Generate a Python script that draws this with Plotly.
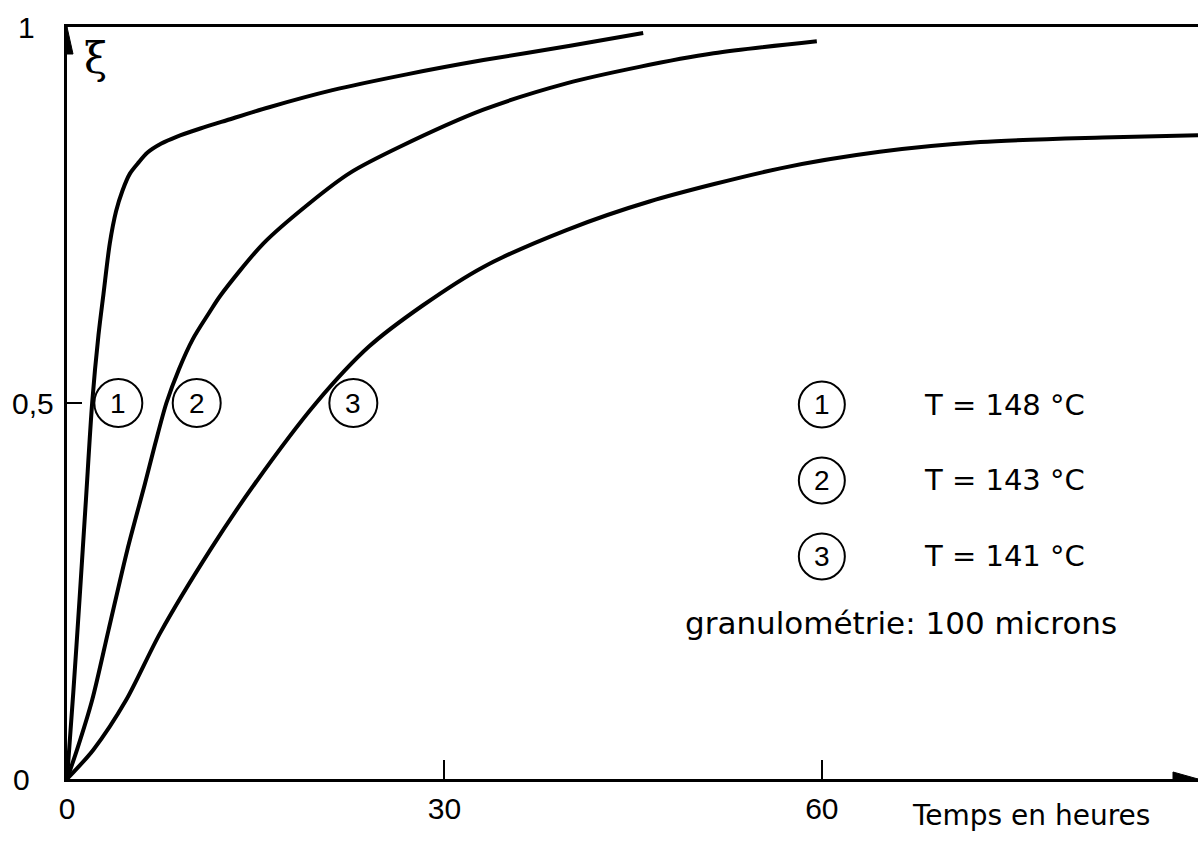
import plotly.graph_objects as go

# ---- data ----
x1 = [0, 0.5, 1.0, 1.5, 2.0, 2.5, 2.9, 3.4, 3.9, 4.4, 5.0, 5.7, 6.4, 7.5, 8.7, 10.6, 12.7, 16, 21.1, 27, 33.1, 40, 45.8]
y1 = [0, 0.115, 0.24, 0.37, 0.5, 0.59, 0.645, 0.712, 0.755, 0.782, 0.805, 0.82, 0.833, 0.845, 0.854, 0.865, 0.876, 0.893, 0.916, 0.937, 0.956, 0.975, 0.992]

x2 = [0, 0.8, 2.0, 3.3, 4.8, 6.2, 7.0, 7.9, 8.9, 10.0, 11.3, 12.2, 15.6, 19.3, 22.5, 26.5, 33.1, 39.7, 45.5, 51.4, 59.6]
y2 = [0, 0.039, 0.105, 0.198, 0.305, 0.393, 0.445, 0.5, 0.545, 0.585, 0.62, 0.643, 0.712, 0.766, 0.806, 0.841, 0.890, 0.925, 0.947, 0.965, 0.981]

x3 = [0, 2.1, 4.7, 7.4, 11.4, 14.9, 19.8, 24, 28.3, 33.1, 39.7, 46.3, 56.7, 64.6, 72.6, 82.3, 89.9]
y3 = [0, 0.039, 0.105, 0.194, 0.305, 0.392, 0.5, 0.575, 0.630, 0.681, 0.730, 0.768, 0.812, 0.834, 0.847, 0.853, 0.856]

curve_labels = ["1", "2", "3"]
curve_label_x = [4.08, 10.31, 22.76]
curve_label_y = 0.5

legend_texts = ["T = 148 °C", "T = 143 °C", "T = 141 °C"]
legend_y = [0.498, 0.397, 0.296]
legend_circle_x = 60.0
legend_text_x = 68.0

x_tickvals = [0, 30, 60]
x_ticktext = ["0", "30", "60"]
y_tickvals = [0, 0.5, 1]
y_ticktext = ["0", "0,5", "1"]
y_label_shift = [-46, -34, -41]

x_max = 89.9
FONT = "Liberation Sans"
TFONT = "DejaVu Sans"

fig = go.Figure()
for xs, ys in [(x1, y1), (x2, y2), (x3, y3)]:
    fig.add_trace(go.Scatter(x=xs, y=ys, mode="lines",
                             line=dict(color="black", width=4, shape="spline", smoothing=0.8),
                             hoverinfo="skip", cliponaxis=False))

shapes = []
for cx in curve_label_x:
    shapes.append(dict(type="circle", xref="x", yref="y", xsizemode="pixel", ysizemode="pixel",
                       xanchor=cx, yanchor=curve_label_y, x0=-24, x1=24, y0=-24, y1=24,
                       line=dict(color="black", width=2)))
for ly in legend_y:
    shapes.append(dict(type="circle", xref="x", yref="y", xsizemode="pixel", ysizemode="pixel",
                       xanchor=legend_circle_x, yanchor=ly, x0=-23, x1=23, y0=-23, y1=23,
                       line=dict(color="black", width=2)))
# axis arrowheads
shapes.append(dict(type="path", xref="x", yref="y", xsizemode="pixel", ysizemode="pixel",
                   xanchor=0, yanchor=1, path="M -6,-27 L 0,0 L 6,-27 Z",
                   fillcolor="black", line=dict(color="black", width=1)))
shapes.append(dict(type="path", xref="x", yref="y", xsizemode="pixel", ysizemode="pixel",
                   xanchor=x_max, yanchor=0, path="M -25,-7 L 0,0 L -25,7 Z",
                   fillcolor="black", line=dict(color="black", width=1)))

annotations = []
for t, cx in zip(curve_labels, curve_label_x):
    annotations.append(dict(x=cx, y=curve_label_y, xref="x", yref="y", text=t, showarrow=False,
                            font=dict(family=FONT, size=28, color="black"),
                            xanchor="center", yanchor="middle"))
for t, ly in zip(curve_labels, legend_y):
    annotations.append(dict(x=legend_circle_x, y=ly, xref="x", yref="y", text=t, showarrow=False,
                            font=dict(family=FONT, size=28, color="black"),
                            xanchor="center", yanchor="middle"))
for t, ly in zip(legend_texts, legend_y):
    annotations.append(dict(x=legend_text_x, y=ly, xref="x", yref="y", text=t, showarrow=False,
                            font=dict(family=TFONT, size=29, color="black"),
                            xanchor="left", yanchor="middle"))
annotations.append(dict(x=66.3, y=0.207, xref="x", yref="y", text="granulométrie: 100 microns",
                        showarrow=False, font=dict(family=TFONT, size=31, color="black"),
                        xanchor="center", yanchor="middle"))
annotations.append(dict(x=76.6, y=0, xref="x", yref="y", text="Temps en heures", showarrow=False,
                        yshift=-36, font=dict(family=TFONT, size=28, color="black"),
                        xanchor="center", yanchor="middle"))
annotations.append(dict(x=2.3, y=0.958, xref="x", yref="y", text="ξ", showarrow=False,
                        font=dict(family="DejaVu Serif", size=42, color="black"),
                        xanchor="center", yanchor="middle"))
for t, v, s in zip(y_ticktext, y_tickvals, y_label_shift):
    annotations.append(dict(x=0, y=v, xref="x", yref="y", text=t, showarrow=False, xshift=s,
                            font=dict(family=FONT, size=30, color="black"),
                            xanchor="center", yanchor="middle"))

fig.update_layout(
    width=1198, height=841,
    margin=dict(l=67, r=0, t=27, b=62),
    paper_bgcolor="white", plot_bgcolor="white",
    showlegend=False,
    shapes=shapes, annotations=annotations,
    xaxis=dict(range=[0, x_max], showline=True, linecolor="black", linewidth=2.5, mirror=True,
               ticks="inside", ticklen=19, tickwidth=2, tickcolor="black",
               tickvals=x_tickvals, ticktext=x_ticktext, ticklabelstandoff=1,
               tickfont=dict(family=FONT, size=30, color="black"),
               showgrid=False, zeroline=False, fixedrange=True),
    yaxis=dict(range=[0, 1], showline=True, linecolor="black", linewidth=2.5,
               ticks="inside", ticklen=15, tickwidth=2, tickcolor="black",
               tickvals=[0.5], showticklabels=False,
               showgrid=False, zeroline=False, fixedrange=True),
)

fig.write_html("out.html", config={"displayModeBar": False},
               post_script="document.body.style.margin='0px';document.body.style.overflow='hidden';")
